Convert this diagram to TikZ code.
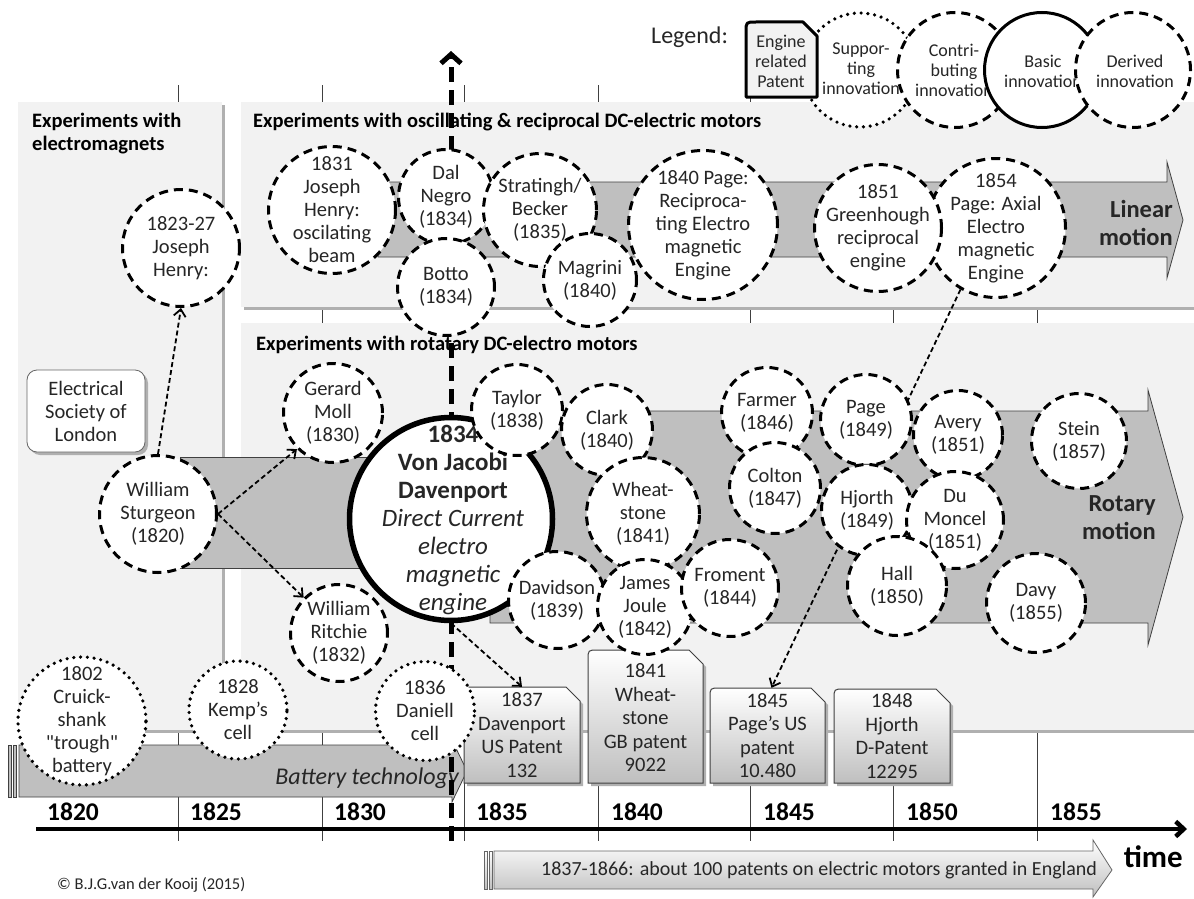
\documentclass[tikz,border=0pt]{standalone}
\usepackage{fontspec}
\setmainfont{Carlito}
\newfontfamily\qfont{Carlito}
\usetikzlibrary{arrows.meta,calc}
\definecolor{panelc}{HTML}{F2F2F2}
\definecolor{arrowc}{HTML}{BFBFBF}
\definecolor{gridc}{HTML}{404040}
\definecolor{textc}{HTML}{262626}
\definecolor{shadowc}{HTML}{B0B0B0}
\newcommand\circnode[6]{%
  \node[#1=#5] (#2) at (#3,#4) {};
  \node[ctext] (#2-t) at (#2) {#6};}
\newcommand\patentshape[5]{%
  \fill[shadowc] (#2+3,#5+3) -- (#2+3,#3+13) .. controls (#2+3,#3+3) .. (#2+13,#3+3) -- (#4-11,#3+3) -- (#4+3,#3+17) -- (#4+3,#5+3) -- cycle;
  \draw[#1] (#2,#5) -- (#2,#3+10) .. controls (#2,#3) .. (#2+10,#3) -- (#4-14,#3) -- (#4,#3+14) -- (#4,#5) -- cycle;}
\tikzset{
  ctext/.style={font=\fontsize{20.5}{23}\selectfont, text=textc, align=center, inner sep=0pt},
  legtext/.style={font=\fontsize{18}{20}\selectfont, text=textc, align=center, inner sep=0pt},
  ptext/.style={font=\fontsize{20.5}{23.5}\selectfont, text=textc, align=center, inner sep=0pt},
  dcirc/.style={circle, fill=white, draw=black, line width=3pt, dash pattern=on 9pt off 6pt, inner sep=0pt, minimum size=#1},
  pcirc/.style={circle, fill=white, draw=black, line width=3.6pt, dash pattern=on 0pt off 6.8pt, line cap=round, inner sep=0pt, minimum size=#1},
  scirc/.style={circle, fill=white, draw=black, line width=3pt, inner sep=0pt, minimum size=#1},
  bigcirc/.style={circle, fill=white, draw=black, line width=5.5pt, inner sep=0pt, minimum size=#1},
  garrow/.style={fill=arrowc, draw=black!75, line width=0.8pt},
  barrow/.style={top color=white, bottom color=arrowc, draw=black!60, line width=0.8pt},
  gridline/.style={draw=gridc, line width=0.9pt},
  conn/.style={draw=black, line width=1.8pt, dash pattern=on 5pt off 3pt, -{Straight Barb[length=7pt,width=12pt]}},
  bigdash/.style={draw=black, line width=5pt, dash pattern=on 15pt off 8pt, -{Straight Barb[length=9pt,width=20pt]}},
  title/.style={font=\bfseries\fontsize{20.5}{24}\selectfont, text=black, anchor=west, inner sep=0pt},
  year/.style={font=\bfseries\fontsize{25.5}{29}\selectfont, text=black, anchor=west, inner sep=0pt},
  motion/.style={font=\bfseries\fontsize{24.5}{28}\selectfont, text=textc, align=right, anchor=east, inner sep=0pt},
  pat/.style={draw=black!75, line width=1pt, top color=white, bottom color=arrowc},
  legbox/.style={draw=black, line width=3pt, fill=panelc, line join=round},
}
\begin{document}
\begin{tikzpicture}[x=1pt,y=-1pt]
\useasboundingbox (0,0) rectangle (1194,899);
\fill[white] (0,0) rectangle (1194,899);
% grid lines
\foreach \gx in {178,322,464,598,750,893,1037} \draw[gridline] (\gx,85) -- (\gx,841);
% time axis
\coordinate (axs) at (36,829);
\coordinate (axe) at (1187,829);
\draw[line width=4.5pt, -{Straight Barb[length=8pt,width=15pt]}] (axs) -- (axe);
\node[year] (y1820) at (47,812) {1820};
\node[year] (y1825) at (190,812) {1825};
\node[year] (y1830) at (334,812) {1830};
\node[year] (y1835) at (476,812) {1835};
\node[year] (y1840) at (611,812) {1840};
\node[year] (y1845) at (763,812) {1845};
\node[year] (y1850) at (906,812) {1850};
\node[year] (y1855) at (1050,812) {1855};
\node[font=\bfseries\fontsize{31}{35}\selectfont, anchor=east, inner sep=0pt] (timelbl) at (1183,857) {time};
% panels
\fill[shadowc] (21,105) rectangle (225,733);
\fill[panelc] (18,102) rectangle (222,730);
\fill[shadowc] (244,105) rectangle (1194,310);
\fill[panelc] (241,102) rectangle (1194,307);
\fill[shadowc] (244,326) rectangle (1194,733);
\fill[panelc] (241,323) rectangle (1194,730);
\node[title] (tleft) at (32,122) {Experiments with};
\node[title] (tleft2) at (32,145) {electromagnets};
\node[title] (ttop) at (253,122) {Experiments with oscillating \& reciprocal DC-electric motors};
\node[title] (trot) at (256,345) {Experiments with rotatary DC-electro motors};
% grey arrows
\draw[garrow] (378,182) -- (1167,182) -- (1167,162) -- (1183,220) -- (1167,278) -- (1167,257) -- (378,257) -- cycle;
\node[motion] (linlbl) at (1173,223) {Linear\\motion};
\draw[garrow] (180,457) rectangle (420,568);
\draw[garrow] (490,411) -- (1148,411) -- (1148,390) -- (1183,517) -- (1148,645) -- (1148,623) -- (490,623) -- cycle;
\node[motion] (rotlbl) at (1156,518) {Rotary\\motion};
% battery arrow
\draw[garrow] (8,745) rectangle (11,797);
\draw[garrow] (13,745) rectangle (16,797);
\draw[garrow] (19,745) -- (452,745) -- (452,740) -- (467,771) -- (452,802) -- (452,797) -- (19,797) -- cycle;
\node[font=\itshape\fontsize{24}{28}\selectfont, anchor=east, text=textc, inner sep=0pt] (battlbl) at (459,778) {Battery technology};
% bottom patents arrow
\draw[barrow] (484,851) rectangle (487,889);
\draw[barrow] (489,851) rectangle (492,889);
\draw[barrow] (494,851) -- (1093,851) -- (1093,840) -- (1112,870) -- (1093,897) -- (1093,889) -- (494,889) -- cycle;
\node[font=\fontsize{20}{24}\selectfont, text=textc, inner sep=0pt] (pat100) at (819,870) {1837-1866: about 100 patents on electric motors granted in England};
\node[font=\fontsize{16.5}{20}\selectfont, anchor=west, text=textc, inner sep=0pt] (copy) at (57,885) {© B.J.G.van der Kooij (2015)};
% vertical dashed arrow
\coordinate (vbot) at (451,841);
\coordinate (vtop) at (451,51);
\draw[bigdash] (vbot) -- (vtop);
% legend
\node[font=\fontsize{24}{28}\selectfont, text=textc, anchor=west, inner sep=0pt] (leglbl) at (651,37) {Legend:};
\node[pcirc=114] (lsup) at (860,70) {};
\node[legtext] (lsup-t) at (861,69) {Suppor-\\ting\\innovation};
\node[dcirc=115] (lcon) at (955,70) {};
\node[legtext] (lcon-t) at (954,70) {Contri-\\buting\\innovation};
\node[scirc=115] (lbas) at (1042,70) {};
\node[legtext] (lbas-t) at (1043,71) {Basic\\innovation};
\node[dcirc=115] (lder) at (1133,70) {};
\node[legtext] (lder-t) at (1135,71) {Derived\\innovation};
\draw[legbox] (746,97) -- (746,32) .. controls (746,22) .. (756,22) -- (803,22) -- (817,36) -- (817,97) -- cycle;
\node[legtext] (lpat) at (781,61) {Engine\\related\\Patent};
% Electrical Society
\fill[shadowc, rounded corners=10pt] (30,373) rectangle (148,455);
\node[ctext, draw=black!60, line width=0.8pt, fill=white, rounded corners=10pt, minimum width=118, minimum height=82] (els) at (86,411) {Electrical\\Society of\\London};
% linear motion circles
\circnode{dcirc}{henrya}{181}{248}{117}{1823-27\\Joseph\\Henry:}
\circnode{dcirc}{henryb}{332}{210}{127}{1831\\Joseph\\Henry:\\oscilating\\beam}
\circnode{dcirc}{dalnegro}{446}{197}{95}{Dal\\Negro\\(1834)}
\circnode{dcirc}{stratingh}{540}{210}{113}{Stratingh/\\Becker\\(1835)}
\circnode{dcirc}{botto}{446}{287}{97}{Botto\\(1834)}
\circnode{dcirc}{magrini}{590}{280}{93}{Magrini\\(1840)}
\circnode{dcirc}{pagea}{703}{225}{149}{1840 Page:\\Reciproca-\\ting Electro\\magnetic\\Engine}
\circnode{dcirc}{pageb}{996}{228}{139}{1854\\Page: Axial\\Electro\\magnetic\\Engine}
\circnode{dcirc}{greenhough}{878}{228}{127}{1851\\Greenhough\\reciprocal\\engine}
% patents
\patentshape{pat}{464}{687}{580}{783}
\node[ptext, minimum width=116, minimum height=96] (p1837) at (522,735) {1837\\Davenport\\US Patent\\132};
\patentshape{pat}{588}{650}{703}{783}
\node[ptext, minimum width=115, minimum height=133] (p1841) at (645.5,718) {1841\\Wheat-\\stone\\GB patent\\9022};
\patentshape{pat}{710}{688}{825}{783}
\node[ptext, minimum width=115, minimum height=95] (p1845) at (767.5,735.5) {1845\\Page’s US\\patent\\10.480};
\patentshape{pat}{834}{689}{950}{783}
\node[ptext, minimum width=116, minimum height=94] (p1848) at (892,736) {1848\\Hjorth\\D-Patent\\12295};
\draw[conn] (pageb.240) -- ($(p1845.north)+(4,0)$);
% rotary circles
\circnode{dcirc}{sturgeon}{158}{514}{117}{William\\Sturgeon\\(1820)}
\circnode{dcirc}{moll}{333}{413}{99}{Gerard\\Moll\\(1830)}
\circnode{dcirc}{ritchie}{339}{633}{97}{William\\Ritchie\\(1832)}
\node[bigcirc=203] (big) at (451,519) {};
\node[font=\fontsize{25}{28}\selectfont, text=textc, align=center, inner sep=0pt] (big-t) at (453,520) {\textbf{1834}\\\textbf{Von Jacobi}\\\textbf{Davenport}\\\textit{Direct Current}\\\textit{electro}\\\textit{magnetic}\\\textit{engine}};
\circnode{dcirc}{taylor}{517}{410}{91}{Taylor\\(1838)}
\circnode{dcirc}{clark}{607}{430}{91}{Clark\\(1840)}
\circnode{dcirc}{wheatstone}{643}{514}{113}{Wheat-\\stone\\(1841)}
\circnode{dcirc}{davidson}{557}{600}{97}{Davidson\\(1839)}
\circnode{dcirc}{joule}{645}{607}{95}{James\\Joule\\(1842)}
\circnode{dcirc}{froment}{730}{588}{97}{Froment\\(1844)}
\circnode{dcirc}{farmer}{767}{413}{91}{Farmer\\(1846)}
\circnode{dcirc}{colton}{775}{488}{91}{Colton\\(1847)}
\circnode{dcirc}{pagec}{866}{420}{91}{Page\\(1849)}
\circnode{dcirc}{avery}{958}{435}{89}{Avery\\(1851)}
\circnode{dcirc}{hjorth}{867}{510}{91}{Hjorth\\(1849)}
\circnode{dcirc}{moncel}{955}{520}{97}{Du\\Moncel\\(1851)}
\circnode{dcirc}{hall}{897}{586}{99}{Hall\\(1850)}
\circnode{dcirc}{stein}{1079}{441}{95}{Stein\\(1857)}
\circnode{dcirc}{davy}{1036}{603}{99}{Davy\\(1855)}
% battery circles
\circnode{pcirc}{cruick}{82}{721}{128}{1802\\Cruick-\\shank\\{\qfont"}trough{\qfont"}\\battery}
\circnode{pcirc}{kemp}{238}{710}{98}{1828\\Kemp’s\\cell}
\circnode{pcirc}{daniell}{425}{711}{99}{1836\\Daniell\\cell}
% connectors
\draw[conn] (sturgeon.north) -- (henrya.south);
\draw[conn] (sturgeon.east) -- (moll.225);
\draw[conn] (sturgeon.east) -- (ritchie.135);
\draw[conn] (big.south) -- (p1837.north);
\end{tikzpicture}
\end{document}
